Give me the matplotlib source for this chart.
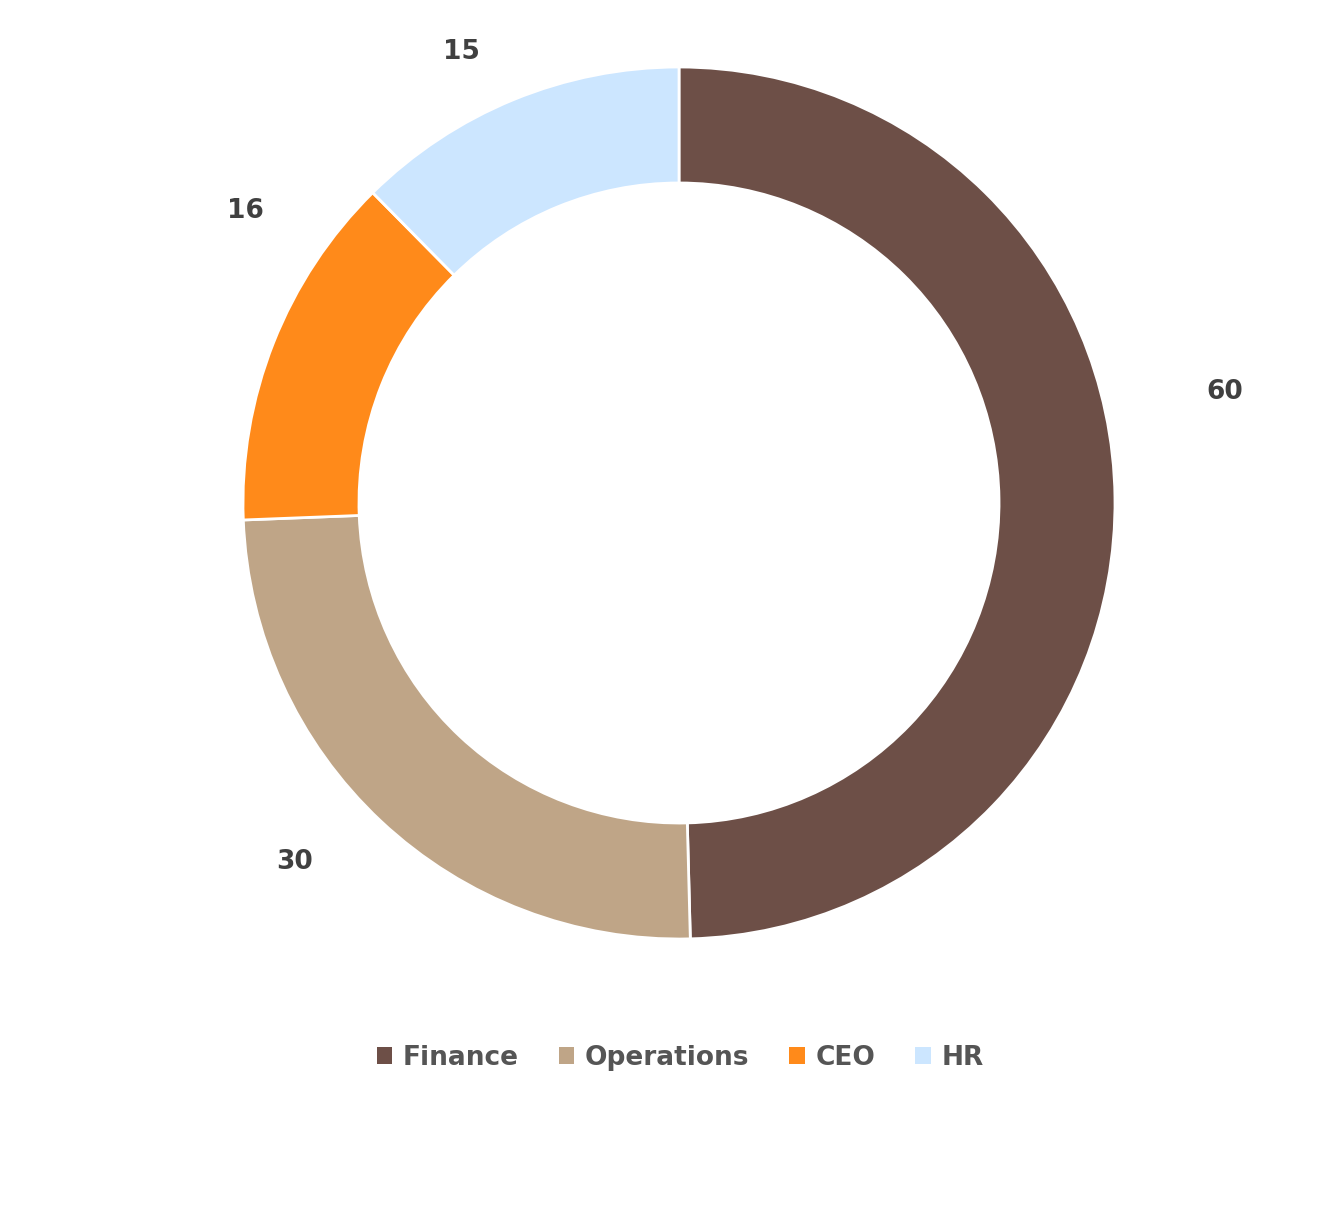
import matplotlib
matplotlib.use("Agg")
import matplotlib.pyplot as plt
from matplotlib.patches import Patch

categories = ["Finance", "Operations", "CEO", "HR"]
values = [60, 30, 16, 15]
colors = ["#6D4F47", "#BFA587", "#FF8A1A", "#CCE6FF"]

W, H = 1327, 1208
fig = plt.figure(figsize=(W / 100, H / 100), dpi=100)
cx, cy, R = 679, 503, 436
ax = fig.add_axes([(cx - R) / W, 1 - (cy + R) / H, 2 * R / W, 2 * R / H])

wedges, _ = ax.pie(values, colors=colors, startangle=90, counterclock=False,
                   radius=1.0, wedgeprops=dict(width=0.266, edgecolor="white", linewidth=2))
ax.set_xlim(-1, 1)
ax.set_ylim(-1, 1)
ax.axis("off")

label_pos = [(1.252, 0.255), (-0.881, -0.823), (-0.995, 0.670), (-0.50, 1.034)]
for v, (x, y) in zip(values, label_pos):
    ax.text(x, y, str(v), ha="center", va="center", fontsize=19,
            fontweight="bold", color="#404040", family="DejaVu Sans", clip_on=False)

handles = [Patch(facecolor=c, edgecolor="none") for c in colors]
leg = fig.legend(handles, categories, loc="center", bbox_to_anchor=(0.5125, 1 - 1058 / H),
                 ncol=4, frameon=False, handlelength=0.6, handleheight=0.6,
                 handletextpad=0.4, columnspacing=1.5,
                 prop=dict(family="DejaVu Sans", weight="bold", size=19))
for t in leg.get_texts():
    t.set_color("#555555")

fig.savefig("out.png", dpi=100, facecolor="white")
